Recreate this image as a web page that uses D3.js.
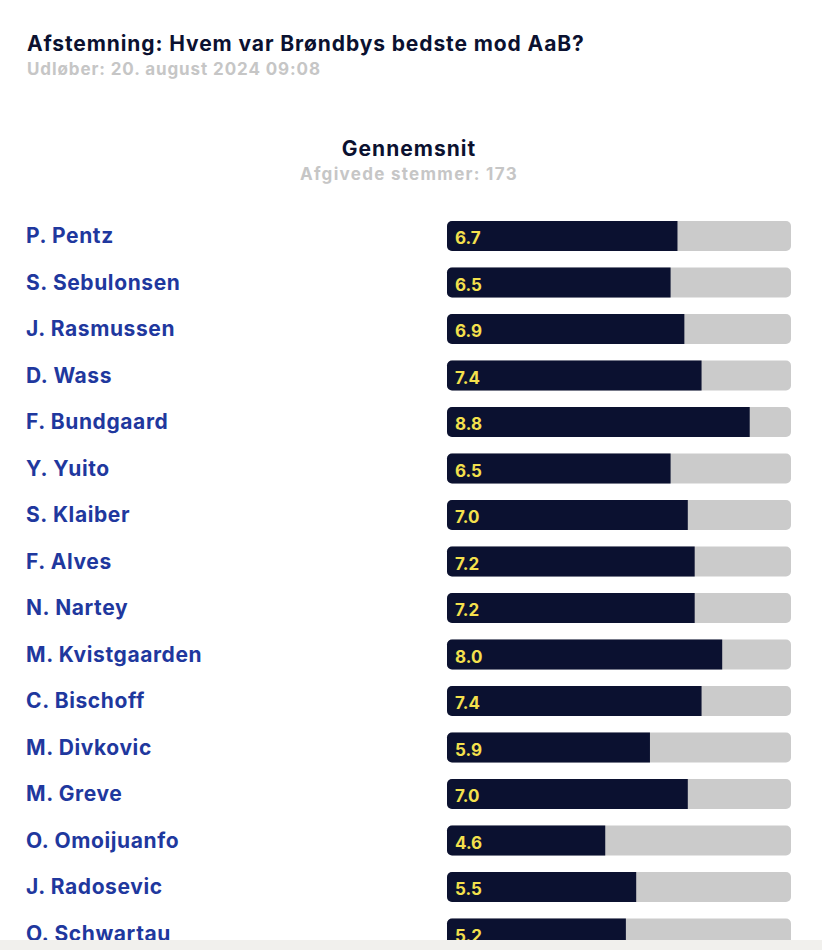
<!DOCTYPE html>
<html>
<head>
<meta charset="utf-8">
<script src="https://cdn.jsdelivr.net/npm/d3@7"></script>
<style>
  body { margin: 0; background: #fff; }
  svg text { font-family: "Inter", "Open Sans", sans-serif; font-weight: 700; }
</style>
</head>
<body>
<div id="chart"></div>
<script>
var players = ['P. Pentz', 'S. Sebulonsen', 'J. Rasmussen', 'D. Wass', 'F. Bundgaard', 'Y. Yuito',
  'S. Klaiber', 'F. Alves', 'N. Nartey', 'M. Kvistgaarden', 'C. Bischoff', 'M. Divkovic',
  'M. Greve', 'O. Omoijuanfo', 'J. Radosevic', 'O. Schwartau']
var ratings = [6.7, 6.5, 6.9, 7.4, 8.8, 6.5, 7.0, 7.2, 7.2, 8.0, 7.4, 5.9, 7.0, 4.6, 5.5, 5.2]
var maxRating = 10

var width = 822, height = 950
var barheight = 30

var svg = d3.select('#chart')
  .append('svg')
  .attr('width', width)
  .attr('height', height)

svg.append('text')
  .attr('x', 27).attr('y', 51)
  .style('font-size', '21px')
  .style('letter-spacing', '0.9px')
  .style('fill', '#0b1130')
  .text('Afstemning: Hvem var Brøndbys bedste mod AaB?')
svg.append('text')
  .attr('x', 27).attr('y', 75)
  .style('font-size', '17px')
  .style('letter-spacing', '0.9px')
  .style('fill', '#c6c6c6')
  .text('Udløber: 20. august 2024 09:08')

svg.append('text')
  .attr('x', 409).attr('y', 156)
  .attr('text-anchor', 'middle')
  .style('font-size', '21px')
  .style('letter-spacing', '1px')
  .style('fill', '#0b1130')
  .text('Gennemsnit')
svg.append('text')
  .attr('x', 409).attr('y', 180)
  .attr('text-anchor', 'middle')
  .style('font-size', '17px')
  .style('letter-spacing', '1.3px')
  .style('fill', '#c6c6c6')
  .text('Afgivede stemmer: 173')

var x = d3.scaleLinear()
  .domain([0, maxRating])
  .range([447, 791])

var y = d3.scaleBand()
  .domain(players)
  .range([221, 221 + 46.5 * players.length])
  .paddingInner(0)

var rows = svg.selectAll('g.row')
  .data(players)
  .enter()
  .append('g')
  .attr('class', 'row')
  .attr('transform', function (d) { return 'translate(0,' + y(d) + ')' })

// player name
rows.append('text')
  .attr('x', 26)
  .attr('y', 22)
  .style('font-size', '21px')
  .style('letter-spacing', '0.6px')
  .style('fill', '#1f389e')
  .text(function (d) { return d })

// gray track
rows.append('rect')
  .attr('x', x(0))
  .attr('width', x(maxRating) - x(0))
  .attr('height', barheight)
  .attr('rx', 5)
  .style('fill', '#cbcbcb')

// value bar, rounded only on the left
rows.append('path')
  .attr('d', function (d, i) {
    var x0 = x(0), x1 = x(ratings[i]), r = 5
    return 'M' + (x0 + r) + ',0H' + x1 + 'V' + barheight + 'H' + (x0 + r) +
      'A' + r + ',' + r + ' 0 0 1 ' + x0 + ',' + (barheight - r) +
      'V' + r + 'A' + r + ',' + r + ' 0 0 1 ' + (x0 + r) + ',0Z'
  })
  .style('fill', '#0b1130')

rows.append('text')
  .attr('x', x(0) + 8)
  .attr('y', 23)
  .style('font-size', '17px')
  .style('fill', '#f4e04d')
  .text(function (d, i) { return ratings[i].toFixed(1) })

// bottom strip
svg.append('rect')
  .attr('x', 0).attr('y', 940)
  .attr('width', width).attr('height', 10)
  .style('fill', '#f1f0ed')
</script>
</body>
</html>
